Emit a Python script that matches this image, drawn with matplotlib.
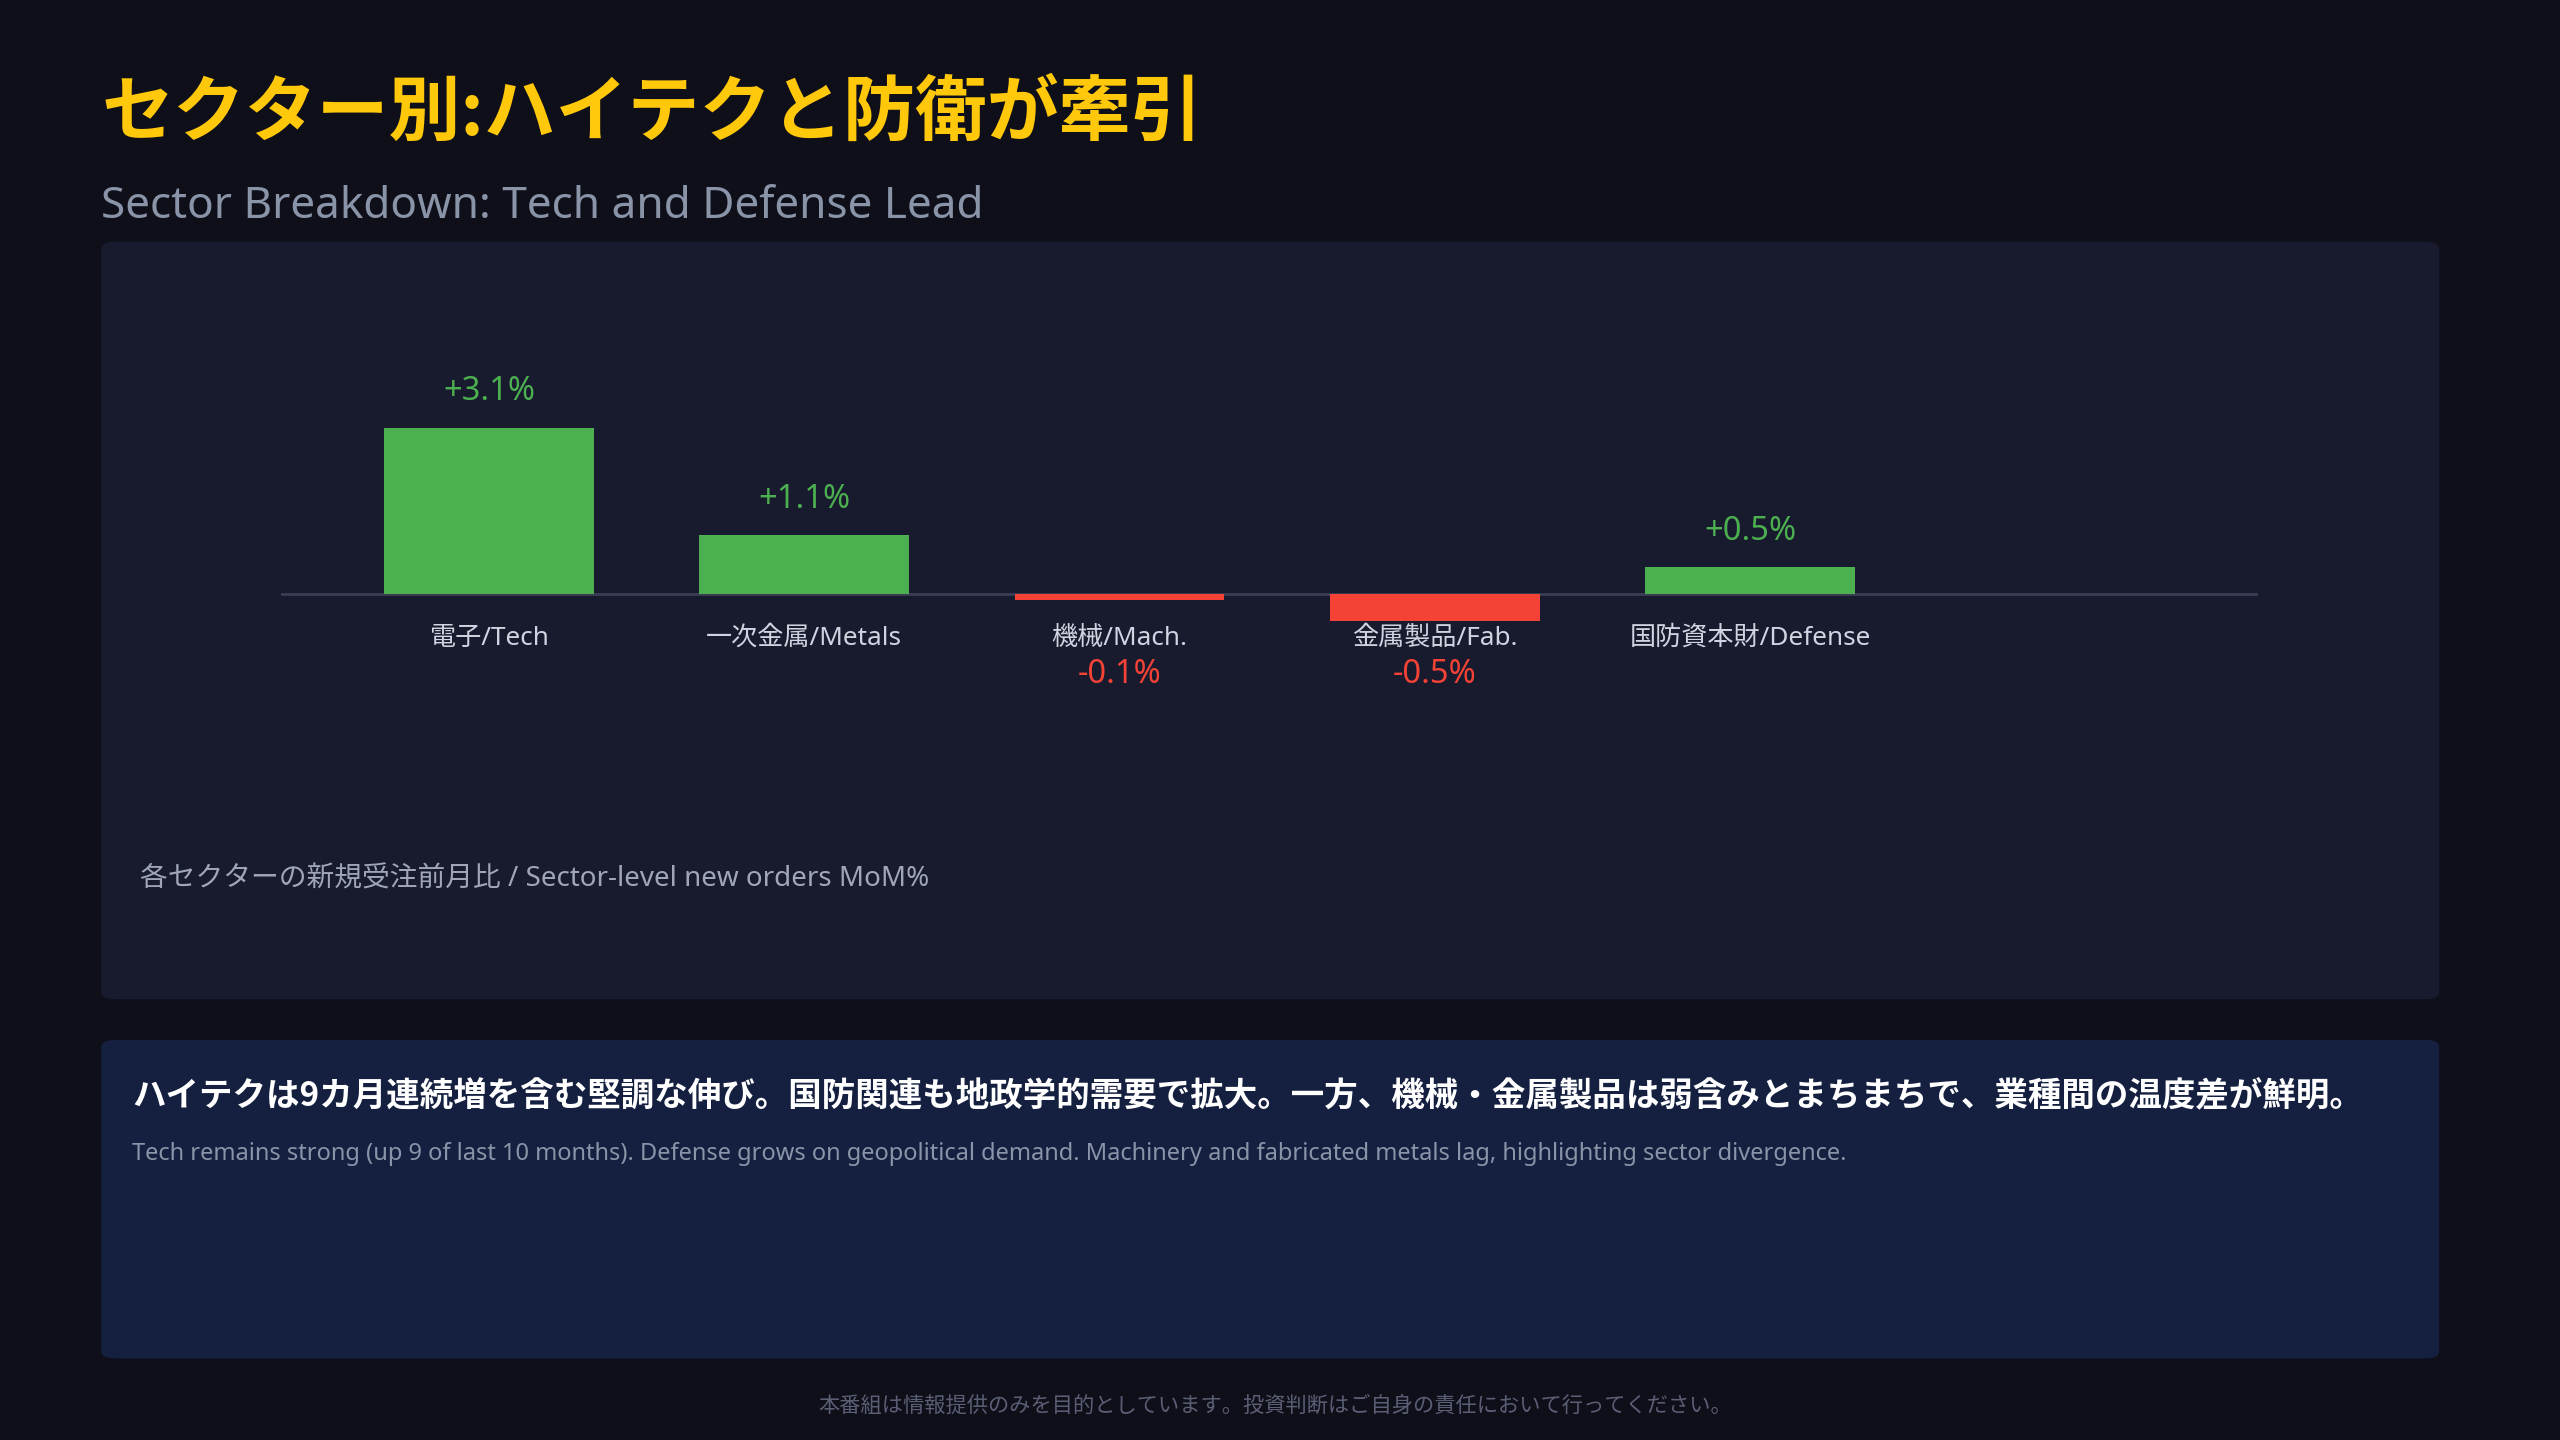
import matplotlib
matplotlib.use("Agg")
import matplotlib.pyplot as plt
from matplotlib.patches import FancyBboxPatch

plt.rcParams['font.family'] = ['Noto Sans', 'Noto Sans CJK JP', 'DejaVu Sans']

categories = ["電子/Tech", "一次金属/Metals", "機械/Mach.", "金属製品/Fab.", "国防資本財/Defense"]
values = [3.1, 1.1, -0.1, -0.5, 0.5]
value_labels = ["+3.1%", "+1.1%", "-0.1%", "-0.5%", "+0.5%"]

W, H = 1568, 882
fig = plt.figure(figsize=(25.6, 14.4), dpi=100)
fig.patch.set_facecolor('#0f0f1a')
PT = 2560 / W * 0.72  # points per reference pixel

def fx(x): return x / W
def fy(y): return 1 - y / H

def box(x0, y0, x1, y1, color):
    p = FancyBboxPatch((fx(x0), fy(y1)), fx(x1 - x0), fy(y0) - fy(y1),
                       boxstyle="round,pad=0,rounding_size=0.005",
                       transform=fig.transFigure, facecolor=color, edgecolor='none', zorder=-5)
    fig.patches.append(p)

box(62, 148, 1494, 612, '#181a2e')
box(62, 637, 1494, 832, '#152040')

fig.text(fx(62), fy(70), "セクター別:ハイテクと防衛が牽引", color='#FFC80A', fontsize=44*PT,
         fontweight='bold', va='center', ha='left', family=['Noto Sans CJK JP', 'DejaVu Sans'])
fig.text(fx(62), fy(127), "Sector Breakdown: Tech and Defense Lead", color='#8a94a8', fontsize=27*PT,
         va='center', ha='left')

# axes
ax_top, ax_bot, ax_l, ax_r = 200, 500, 172, 1383
ax = fig.add_axes([fx(ax_l), fy(ax_bot), fx(ax_r - ax_l), fy(ax_top) - fy(ax_bot)])
ax.set_zorder(5)
ax.set_facecolor('none')
s = 32.9
ax.set_ylim(-(ax_bot - 364) / s, (364 - ax_top) / s)
ax.set_xlim(-0.66, 5.61)
for sp in ax.spines.values():
    sp.set_visible(False)
ax.set_xticks([]); ax.set_yticks([])
ax.axhline(0, color='#3a3d55', lw=2, zorder=1)

xs = list(range(len(categories)))
colors = ['#4caf50' if v >= 0 else '#f44336' for v in values]
ax.bar(xs, values, width=0.665, color=colors, zorder=2)
for x, v, c, lab, vl in zip(xs, values, categories, colors, value_labels):
    ax.annotate(c, (x, 0), xytext=(0, -27 * PT), textcoords='offset points',
                ha='center', va='center', color='#d0d4e0', fontsize=16*PT)
    if v >= 0:
        ax.annotate(vl, (x, v), xytext=(0, 22 * PT), textcoords='offset points',
                    ha='center', va='center', color='#4caf50', fontsize=20*PT)
    else:
        ax.annotate(vl, (x, 0), xytext=(0, -49 * PT), textcoords='offset points',
                    ha='center', va='center', color='#f44336', fontsize=20*PT)

fig.text(fx(86), fy(539), "各セクターの新規受注前月比 / Sector-level new orders MoM%", color='#a0a6b8',
         fontsize=17*PT, va='center', ha='left')

fig.text(fx(81), fy(672), "ハイテクは9カ月連続増を含む堅調な伸び。国防関連も地政学的需要で拡大。一方、機械・金属製品は弱含みとまちまちで、業種間の温度差が鮮明。",
         color='#ffffff', fontsize=20.5*PT, fontweight='bold', va='center', ha='left',
         family=['Noto Sans CJK JP', 'DejaVu Sans'])
fig.text(fx(81), fy(707), "Tech remains strong (up 9 of last 10 months). Defense grows on geopolitical demand. Machinery and fabricated metals lag, highlighting sector divergence.",
         color='#8a94a8', fontsize=14.5*PT, va='center', ha='left')

fig.text(fx(781), fy(861), "本番組は情報提供のみを目的としています。投資判断はご自身の責任において行ってください。",
         color='#5a5f75', fontsize=13*PT, va='center', ha='center')

fig.savefig("out.png", dpi=100, facecolor=fig.get_facecolor())
